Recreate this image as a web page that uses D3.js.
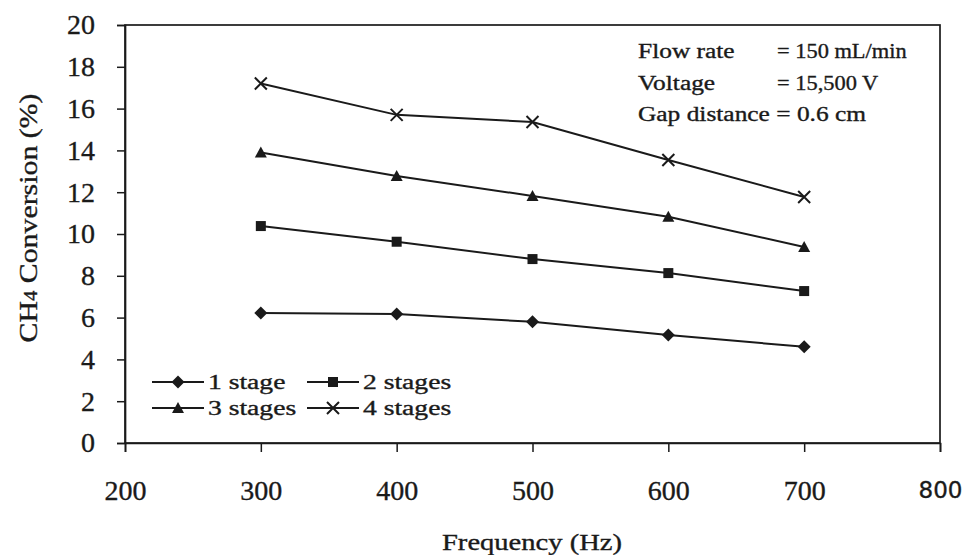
<!DOCTYPE html>
<html>
<head>
<meta charset="utf-8">
<script src="https://cdn.jsdelivr.net/npm/d3@7"></script>
<style>
  body { margin: 0; background: #fff; }
  svg text { font-family: "Liberation Serif", "Times New Roman", serif; fill: #1a1a1a; stroke: #1a1a1a; stroke-width: 0.35px; }
</style>
</head>
<body>
<svg id="chart" width="971" height="555"></svg>
<script>
// data
let frequencies = [300, 400, 500, 600, 700];
let stage1 = [6.22, 6.17, 5.8, 5.17, 4.6];
let stage2 = [10.38, 9.63, 8.8, 8.13, 7.27];
let stage3 = [13.9, 12.78, 11.82, 10.83, 9.38];
let stage4 = [17.2, 15.7, 15.36, 13.54, 11.77];
let seriesNames = ["1 stage", "2 stages", "3 stages", "4 stages"];
let seriesShapes = ["diamond", "square", "triangle", "cross"];
let xTicks = [200, 300, 400, 500, 600, 700, 800];
let yTicks = [0, 2, 4, 6, 8, 10, 12, 14, 16, 18, 20];
let notes = [["Flow rate", "= 150 mL/min"], ["Voltage", "= 15,500 V"], ["Gap distance = 0.6 cm", ""]];

let ink = "#1a1a1a";
let svg = d3.select("#chart");
let margin = { top: 25, right: 31, bottom: 112, left: 125 };
let width = 971 - margin.left - margin.right;
let height = 555 - margin.top - margin.bottom;

// the scanned chart has its text stretched sideways, so widen text by a factor
function stretch(sel, factor) {
    sel.each(function() {
        let w = this.getComputedTextLength();
        d3.select(this)
            .attr("textLength", w * factor)
            .attr("lengthAdjust", "spacingAndGlyphs");
    });
}

let g = svg.append("g")
    .attr("transform", "translate(" + margin.left + "," + margin.top + ")");

let x = d3.scaleLinear().domain([200, 800]).range([0, width]);
let y = d3.scaleLinear().domain([0, 20]).range([height, 0]);

// frame
g.append("rect")
    .attr("width", width)
    .attr("height", height)
    .attr("fill", "none")
    .attr("stroke", ink)
    .attr("stroke-width", 1.7);

let yAxis = g.append("g")
    .call(d3.axisLeft(y).tickValues(yTicks).tickSize(8).tickPadding(22));
yAxis.select(".domain").attr("stroke", ink).attr("stroke-width", 1.7);
yAxis.selectAll(".tick line").attr("stroke", ink).attr("stroke-width", 1.5);
yAxis.selectAll(".tick text")
    .attr("fill", ink)
    .style("font-size", "28px")
    .style("font-family", "Liberation Serif, serif");

let xAxis = g.append("g")
    .attr("transform", "translate(0," + height + ")")
    .call(d3.axisBottom(x).tickValues(xTicks).tickSize(9).tickPadding(28));
xAxis.select(".domain").attr("stroke", ink).attr("stroke-width", 1.7);
xAxis.selectAll(".tick line").attr("stroke", ink).attr("stroke-width", 1.5);
xAxis.selectAll(".tick text")
    .attr("fill", ink)
    .style("font-size", "28px")
    .style("font-family", "Liberation Serif, serif");
// the last label is set in a wider face in the reference
xAxis.selectAll(".tick text")
    .filter(function(d) { return d === 800; })
    .style("font-family", "DejaVu Sans, sans-serif")
    .style("font-size", "23px")
    .attr("dy", "0.78em");

// axis titles
let yTitle = svg.append("text")
    .attr("transform", "translate(37,218) rotate(-90)")
    .attr("text-anchor", "middle")
    .style("font-size", "26px");
yTitle.append("tspan").text("CH");
yTitle.append("tspan").style("font-size", "18px").text("4");
yTitle.append("tspan").text(" Conversion (%)");
yTitle.attr("textLength", 249).attr("lengthAdjust", "spacingAndGlyphs");

svg.append("text")
    .attr("x", 532)
    .attr("y", 550)
    .attr("text-anchor", "middle")
    .style("font-size", "24px")
    .text("Frequency (Hz)")
    .call(stretch, 1.19);

// markers
function drawMarker(sel, shape) {
    if (shape === "diamond") {
        sel.append("path").attr("d", "M0,-6.5L6.5,0L0,6.5L-6.5,0Z").attr("fill", ink);
    } else if (shape === "square") {
        sel.append("rect").attr("x", -5).attr("y", -5).attr("width", 10).attr("height", 10).attr("fill", ink);
    } else if (shape === "triangle") {
        sel.append("path").attr("d", "M0,-6L6,5L-6,5Z").attr("fill", ink);
    } else {
        sel.append("path").attr("d", "M-6,-6L6,6M-6,6L6,-6")
            .attr("stroke", ink).attr("stroke-width", 2).attr("fill", "none");
    }
}

let allSeries = [stage1, stage2, stage3, stage4];
let line = d3.line()
    .x(function(d, i) { return x(frequencies[i]); })
    .y(function(d) { return y(d); });

for (let s = 0; s < allSeries.length; s++) {
    g.append("path")
        .datum(allSeries[s])
        .attr("fill", "none")
        .attr("stroke", ink)
        .attr("stroke-width", 2)
        .attr("d", line);
    for (let i = 0; i < frequencies.length; i++) {
        let m = g.append("g")
            .attr("transform", "translate(" + x(frequencies[i]) + "," + y(allSeries[s][i]) + ")");
        drawMarker(m, seriesShapes[s]);
    }
}

// legend
let legendX = [152, 307];
let legendY = [382, 408];
for (let s = 0; s < seriesNames.length; s++) {
    let lx = legendX[s % 2];
    let ly = legendY[Math.floor(s / 2)];
    let lg = svg.append("g").attr("transform", "translate(" + lx + "," + ly + ")");
    lg.append("line")
        .attr("x1", 0).attr("x2", 52)
        .attr("stroke", ink).attr("stroke-width", 2);
    let m = lg.append("g").attr("transform", "translate(26,0)");
    drawMarker(m, seriesShapes[s]);
    lg.append("text")
        .attr("x", 56)
        .attr("y", 7)
        .style("font-size", "20px")
        .text(seriesNames[s])
        .call(stretch, 1.38);
}

// conditions text
for (let i = 0; i < notes.length; i++) {
    svg.append("text")
        .attr("x", 638)
        .attr("y", 58 + i * 31.5)
        .style("font-size", "20px")
        .text(notes[i][0])
        .call(stretch, 1.27);
    if (notes[i][1]) {
        svg.append("text")
            .attr("x", 777)
            .attr("y", 58 + i * 31.5)
            .style("font-size", "20px")
            .text(notes[i][1])
            .call(stretch, 1.12);
    }
}
</script>
</body>
</html>
